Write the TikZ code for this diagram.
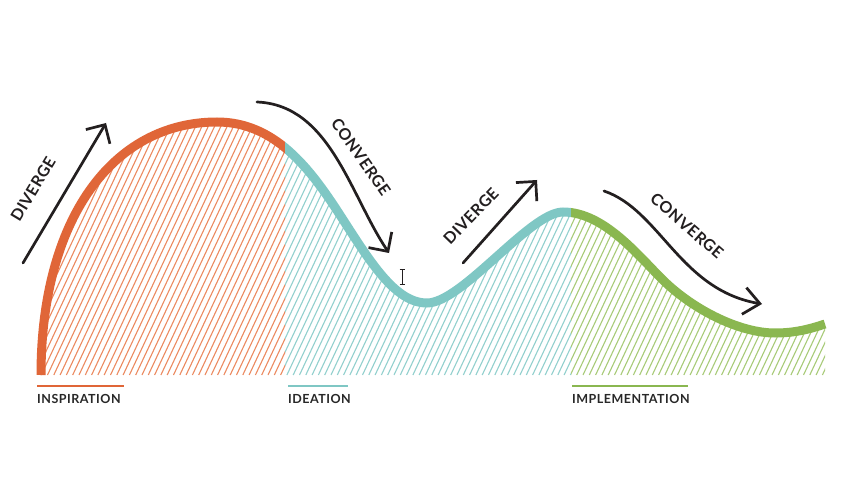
\documentclass[tikz,border=0pt]{standalone}
\usepackage{fontspec}
\setmainfont{Lato}
\usetikzlibrary{arrows.meta}

\definecolor{inspire}{RGB}{224,102,56}
\definecolor{inspirehatch}{RGB}{236,138,96}
\definecolor{ideate}{RGB}{127,199,196}
\definecolor{ideatehatch}{RGB}{146,208,206}
\definecolor{implement}{RGB}{138,183,80}
\definecolor{implementhatch}{RGB}{168,203,120}
\definecolor{ink}{RGB}{35,31,32}
\definecolor{labelink}{RGB}{40,40,40}

% the wave that runs through the three phases
\def\crest{(41,375) .. controls (41,220) and (112,122) .. (217,122)
  .. controls (275,122) and (310,168.5) .. (340,215)
  .. controls (370,261.5) and (395,303) .. (427,303)
  .. controls (462,303) and (530,212) .. (563,212)
  .. controls (605,212) and (640,258) .. (665,282)
  .. controls (695,310.5) and (740,333) .. (775,333)
  .. controls (795,333) and (810,329) .. (825,324)}

\tikzset{
  wave/.style={line width=9pt},
  hatchline/.style={line width=1.1pt},
  guide/.style={draw=ink, line width=2.7pt, line cap=round, line join=round},
  phase/.style={font=\bfseries\fontsize{12.5}{14}\selectfont\addfontfeatures{LetterSpace=4},
    text=labelink, anchor=base west, inner sep=0pt},
  phaserule/.style={line width=1.3pt},
  cue/.style={font=\bfseries\fontsize{16}{18}\selectfont\addfontfeatures{LetterSpace=3},
    text=ink, inner sep=0pt},
  barb/.style={-{Straight Barb[length=14pt,width=28pt]}},
}

\begin{document}
\begin{tikzpicture}[x=1pt,y=-1pt]
  \fill[white] (0,0) rectangle (842,478);
  \useasboundingbox (0,0) rectangle (842,478);

  % hatching under the wave, one colour per phase
  \begin{scope}
    \clip \crest -- (825,375) -- (41,375) -- cycle;
    \begin{scope}
      \clip (0,0) rectangle (285,400);
      \foreach \k in {0,...,150} {\draw[hatchline, inspirehatch] ({-110+6.3*\k},375) -- ++(122,-260);}
    \end{scope}
    \begin{scope}
      \clip (285,0) rectangle (571,400);
      \foreach \k in {0,...,150} {\draw[hatchline, ideatehatch] ({-110+6.3*\k},375) -- ++(122,-260);}
    \end{scope}
    \begin{scope}
      \clip (571,0) rectangle (842,400);
      \foreach \k in {0,...,150} {\draw[hatchline, implementhatch] ({-110+6.3*\k},375) -- ++(122,-260);}
    \end{scope}
  \end{scope}

  % the wave itself
  \begin{scope}
    \clip (0,0) rectangle (285,478);
    \draw[wave, inspire] \crest;
  \end{scope}
  \begin{scope}
    \clip (285,0) rectangle (571,478);
    \draw[wave, ideate] \crest;
  \end{scope}
  \begin{scope}
    \clip (571,0) rectangle (842,478);
    \draw[wave, implement] \crest;
  \end{scope}

  % phase labels
  \draw[phaserule, inspire] (37,386) -- (124,386);
  \draw[phaserule, ideate] (288,386) -- (348,386);
  \draw[phaserule, implement] (572,386) -- (688,386);
  \node[phase] (inspiration) at (37,403) {INSPIRATION};
  \node[phase] (ideation) at (288,403) {IDEATION};
  \node[phase] (implementation) at (572,403) {IMPLEMENTATION};

  % diverge / converge arrows
  \coordinate (divAtail) at (23,263);
  \coordinate (divAhead) at (106,123);
  \coordinate (conAtail) at (257,102);
  \coordinate (conAhead) at (389,253);
  \coordinate (divBtail) at (463,263);
  \coordinate (divBhead) at (537,180);
  \coordinate (conBtail) at (604,191);
  \coordinate (conBhead) at (762,304);

  \draw[guide, barb] (divAtail) -- (divAhead);
  \draw[guide, barb] (conAtail) .. controls (330,105) and (350,195) .. (conAhead);
  \draw[guide, barb] (divBtail) -- (divBhead);
  \draw[guide, -{Straight Barb[length=16pt,width=27pt]}] (conBtail) .. controls (660,210) and (680,290) .. (conBhead);

  \node[cue, rotate=59] (divergeA) at (33,189) {DIVERGE};
  \node[cue, rotate=-55] (convergeA) at (361,157) {CONVERGE};
  \node[cue, rotate=46] (divergeB) at (471,216) {DIVERGE};
  \node[cue, rotate=-41] (convergeB) at (687,226) {CONVERGE};

  % text cursor
  \draw[ink, line width=0.9pt] (402,270) -- (402,284)
    (399.5,269.5) -- (404.5,269.5) (399.5,284.5) -- (404.5,284.5);
\end{tikzpicture}
\end{document}
